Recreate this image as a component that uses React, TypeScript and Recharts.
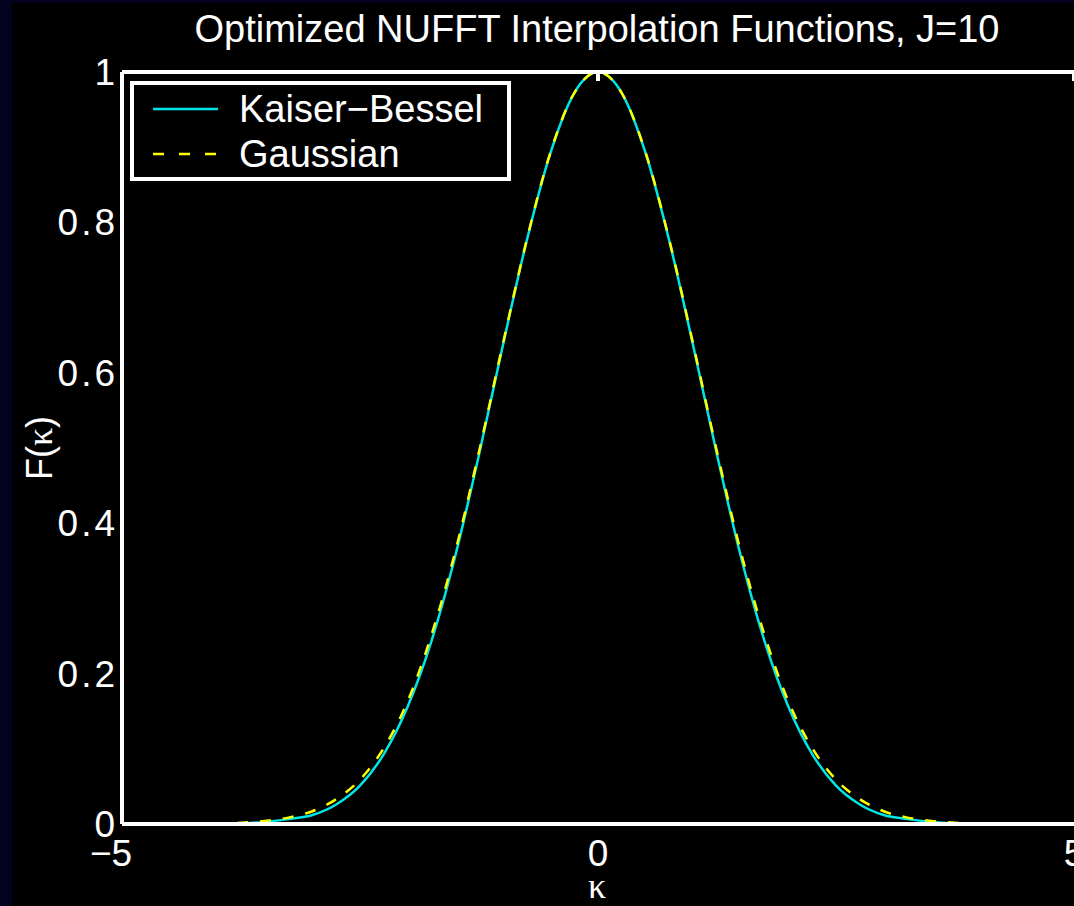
import { LineChart, Line, XAxis, YAxis, Legend } from "recharts";

// kappa sample points
const kappa = [
  -5, -4.75, -4.5, -4.25, -4, -3.75, -3.5, -3.25, -3, -2.75, -2.5, -2.25, -2, -1.75, -1.5, -1.25, -1, -0.75, -0.5, -0.25,
  0, 0.25, 0.5, 0.75, 1, 1.25, 1.5, 1.75, 2, 2.25, 2.5, 2.75, 3, 3.25, 3.5, 3.75, 4, 4.25, 4.5, 4.75, 5,
];

const kaiserBessel = [
  0, 0, 0, 0.0001, 0.0003, 0.001, 0.0028, 0.0065, 0.012, 0.026, 0.051, 0.093, 0.156, 0.243, 0.356, 0.491, 0.636, 0.775, 0.892, 0.972,
  1, 0.972, 0.892, 0.775, 0.636, 0.491, 0.356, 0.243, 0.156, 0.093, 0.051, 0.026, 0.012, 0.0065, 0.0028, 0.001, 0.0003, 0.0001, 0, 0, 0,
];

const gaussian = [
  0, 0, 0.0001, 0.0003, 0.0007, 0.0017, 0.004, 0.0085, 0.017, 0.033, 0.059, 0.101, 0.163, 0.251, 0.362, 0.495, 0.638, 0.776, 0.893, 0.972,
  1, 0.972, 0.893, 0.776, 0.638, 0.495, 0.362, 0.251, 0.163, 0.101, 0.059, 0.033, 0.017, 0.0085, 0.004, 0.0017, 0.0007, 0.0003, 0.0001, 0, 0,
];

const xTicks = [-5, 0, 5];
const yTicks = [0, 0.2, 0.4, 0.6, 0.8, 1];
const seriesNames = ["Kaiser\u2212Bessel", "Gaussian"];

const data = kappa.map((k, i) => ({ k, kb: kaiserBessel[i], g: gaussian[i] }));

const FONT = '"Liberation Sans", Arial, Helvetica, sans-serif';
const W = 1074;
const H = 906;

const XTick = (props: any) => {
  const { x, y, payload } = props;
  const label = payload.value < 0 ? "\u2212" + Math.abs(payload.value) : String(payload.value);
  return (
    <text x={payload.value < 0 ? x - 11 : x} y={y} dy={42} textAnchor="middle" fill="#fff" fontSize={37} fontFamily={FONT}>
      {label}
    </text>
  );
};

const YTick = (props: any) => {
  const { x, y, payload } = props;
  return (
    <text x={x + 3} y={y} dy={13} textAnchor="end" fill="#fff" fontSize={37} fontFamily={FONT} letterSpacing={3}>
      {payload.value}
    </text>
  );
};

const renderLegend = () => (
  <svg width={381} height={100} style={{ display: "block" }}>
    <rect x={2} y={2} width={377} height={96} fill="#000" stroke="#fff" strokeWidth={4} />
    <line x1={23} x2={88} y1={28} y2={28} stroke="#00e6e6" strokeWidth={2.5} />
    <text x={109} y={41} fill="#fff" fontSize={38} fontFamily={FONT}>{seriesNames[0]}</text>
    <line x1={23} x2={88} y1={73} y2={73} stroke="#ffff00" strokeWidth={2.5} strokeDasharray="11 15" />
    <text x={109} y={86} fill="#fff" fontSize={38} fontFamily={FONT}>{seriesNames[1]}</text>
  </svg>
);

export default function App() {
  return (
    <div style={{ position: "absolute", left: 0, top: 0, width: W, height: H, background: "#03031f" }}>
      <div style={{ position: "absolute", left: 12, top: 3, width: W - 12, height: H - 3, background: "#000" }} />
      <div style={{ position: "absolute", left: 0, top: 0 }}>
        <LineChart width={W} height={H} data={data} margin={{ top: 72, right: 0, bottom: 52, left: 0 }}>
          <XAxis
            dataKey="k"
            type="number"
            domain={[-5, 5]}
            ticks={xTicks}
            height={30}
            axisLine={{ stroke: "#fff", strokeWidth: 4 }}
            tickLine={false}
            tickSize={0}
            tickMargin={0}
            tick={<XTick />}
            interval={0}
          />
          <XAxis
            xAxisId="top"
            dataKey="k"
            type="number"
            domain={[-5, 5]}
            ticks={xTicks}
            orientation="top"
            mirror
            height={1}
            axisLine={{ stroke: "#fff", strokeWidth: 4 }}
            tickLine={{ stroke: "#fff", strokeWidth: 4 }}
            tickSize={9}
            tick={() => <g />}
          />
          <YAxis
            domain={[0, 1]}
            ticks={yTicks}
            width={122}
            axisLine={{ stroke: "#fff", strokeWidth: 4 }}
            tickLine={false}
            tickSize={0}
            tickMargin={7}
            tick={<YTick />}
            interval={0}
          />
          <YAxis
            yAxisId="right"
            orientation="right"
            mirror
            domain={[0, 1]}
            ticks={yTicks}
            width={1}
            axisLine={false}
            tickLine={{ stroke: "#fff", strokeWidth: 3 }}
            tickSize={8}
            tick={() => <g />}
          />
          <Legend
            content={renderLegend}
            layout="vertical"
            align="center"
            verticalAlign="middle"
            wrapperStyle={{ left: 130, top: 81, width: 381, height: 100 }}
          />
          <Line
            type="monotone"
            dataKey="kb"
            name={seriesNames[0]}
            stroke="#00e6e6"
            strokeWidth={2.5}
            dot={false}
            isAnimationActive={false}
          />
          <Line
            type="monotone"
            dataKey="g"
            name={seriesNames[1]}
            stroke="#ffff00"
            strokeWidth={2.5}
            strokeDasharray="11 12"
            dot={false}
            isAnimationActive={false}
          />
        </LineChart>
      </div>
      <svg width={W} height={H} style={{ position: "absolute", left: 0, top: 0, pointerEvents: "none" }}>
        <text x={597} y={42} textAnchor="middle" fill="#fff" fontSize={38} fontFamily={FONT}>
          Optimized NUFFT Interpolation Functions, J=10
        </text>
        <text x={597} y={898} textAnchor="middle" fill="#fff" fontSize={36} fontFamily='"Liberation Serif", serif'>
          κ
        </text>
        <text transform="translate(52 448) rotate(-90)" textAnchor="middle" fill="#fff" fontSize={36} fontFamily={FONT}>
          F(<tspan fontFamily='"Liberation Serif", serif'>κ</tspan>)
        </text>
      </svg>
    </div>
  );
}
